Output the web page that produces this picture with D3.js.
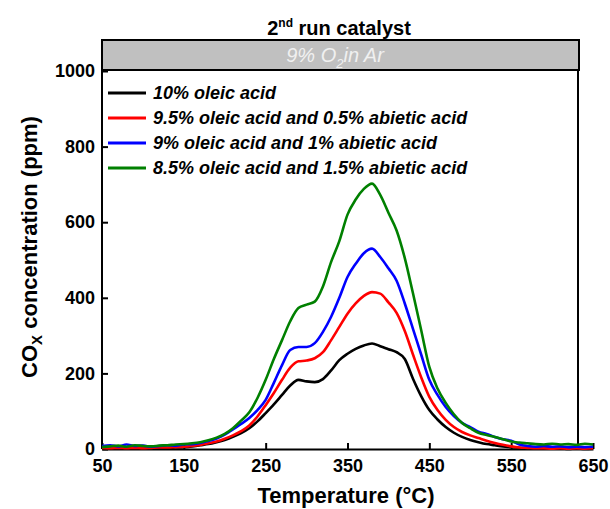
<!DOCTYPE html>
<html>
<head>
<meta charset="utf-8">
<script src="https://cdnjs.cloudflare.com/ajax/libs/d3/7.8.5/d3.min.js"></script>
<style>
	body { margin: 0; background: #ffffff; }
	text { font-family: Arial, "Liberation Sans", sans-serif; }
</style>
</head>
<body>
<div id="chart"></div>
<script>
// temperature grid (°C)
var temps = [50, 60, 70, 80, 90, 100, 110, 120, 130, 140, 150, 160, 170, 180, 190, 200, 210, 220, 230, 240,
	250, 260, 270, 280, 290, 300, 310, 320, 330, 340, 350, 360, 370, 380, 390, 400, 410, 420, 430, 440,
	450, 460, 470, 480, 490, 500, 510, 520, 530, 540, 550, 560, 570, 580, 590, 600, 610, 620, 630, 640, 650];

// CO_x concentration (ppm) for each run
var oleic10 = [2, 1, 2, 1, 2, 1, 2, 3, 3, 4, 5, 7, 10, 13, 18, 24, 32, 42, 55, 73,
	95, 118, 143, 168, 183, 179, 177, 185, 208, 235, 252, 265, 274, 279, 272, 264, 256, 238, 186, 140,
	103, 78, 58, 43, 32, 24, 18, 13, 10, 7, 5, 3, 2, 1, 1, 1, 1, 0, 1, 0, 1];
var oleic95 = [3, 2, 3, 2, 3, 2, 3, 4, 4, 5, 6, 8, 11, 15, 20, 27, 36, 47, 62, 86,
	116, 148, 183, 215, 232, 234, 240, 256, 288, 323, 358, 385, 405, 415, 411, 388, 360, 312, 250, 190,
	138, 103, 77, 58, 45, 36, 29, 22, 16, 11, 7, 4, 3, 2, 2, 1, 2, 1, 2, 1, 2];
var oleic9 = [8, 10, 7, 12, 8, 9, 6, 8, 10, 9, 12, 13, 16, 21, 28, 38, 52, 66, 82, 103,
	130, 175, 222, 262, 270, 270, 280, 310, 350, 400, 455, 490, 518, 530, 508, 478, 445, 385, 318, 250,
	183, 143, 111, 87, 69, 58, 46, 40, 32, 26, 22, 12, 8, 6, 8, 6, 7, 5, 6, 5, 6];
var oleic85 = [5, 7, 9, 6, 10, 8, 7, 9, 10, 12, 13, 15, 18, 23, 30, 40, 55, 75, 97, 135,
	183, 238, 288, 338, 373, 382, 390, 430, 495, 550, 620, 660, 688, 702, 672, 625, 578, 505, 412, 315,
	217, 160, 122, 92, 69, 55, 43, 37, 32, 26, 20, 17, 15, 13, 12, 14, 12, 13, 11, 14, 12];

var seriesNames = ["10% oleic acid", "9.5% oleic acid and 0.5% abietic acid",
	"9% oleic acid and 1% abietic acid", "8.5% oleic acid and 1.5% abietic acid"];
var seriesValues = [oleic10, oleic95, oleic9, oleic85];
var seriesColors = ["#000000", "#ff0000", "#0000ff", "#008000"];

var xTicks = [50, 150, 250, 350, 450, 550, 650];
var yTicks = [0, 200, 400, 600, 800, 1000];

// Setting size
var size = { width: 610, height: 509 };
var plot = { left: 102, right: 578, top: 70, bottom: 449 };

// scales
var xScale = d3.scaleLinear()
	.domain([50, 650])
	.range([plot.left, 593]);

var yScale = d3.scaleLinear()
	.domain([0, 1000])
	.range([plot.bottom, 71]);

var svg = d3.select("#chart").append("svg")
	.attr("width", size.width)
	.attr("height", size.height)
	.style("background", "#ffffff");

// title
var title = svg.append("text")
	.attr("x", 339)
	.attr("y", 35)
	.attr("text-anchor", "middle")
	.style("font-size", "20px")
	.style("font-weight", "bold");
title.append("tspan").text("2");
title.append("tspan").attr("dy", -8).style("font-size", "12px").text("nd");
title.append("tspan").attr("dy", 8).text(" run catalyst");

// grey strip on top
svg.append("rect")
	.attr("x", plot.left)
	.attr("y", 40)
	.attr("width", plot.right - plot.left + 1)
	.attr("height", plot.top - 40)
	.attr("fill", "#c0c0c0")
	.attr("stroke", "#000")
	.attr("stroke-width", 2);

var strip = svg.append("text")
	.attr("x", 335)
	.attr("y", 62)
	.attr("text-anchor", "middle")
	.attr("fill", "#f0f0f0")
	.style("font-size", "20px")
	.style("font-style", "italic");
strip.append("tspan").text("9% O");
strip.append("tspan").attr("dy", 6).style("font-size", "13px").text("2");
strip.append("tspan").attr("dy", -6).text("in Ar");

// frame lines
svg.append("line")
	.attr("x1", plot.right).attr("x2", plot.right)
	.attr("y1", plot.top).attr("y2", plot.bottom)
	.attr("stroke", "#000").attr("stroke-width", 2);

// x axis (ticks inside)
var x_axis = d3.axisBottom(xScale)
	.tickValues(xTicks)
	.tickSizeInner(-6)
	.tickSizeOuter(0)
	.tickPadding(10);

var gx = svg.append("g")
	.attr("transform", "translate(0," + plot.bottom + ")")
	.call(x_axis);
gx.select(".domain").attr("stroke-width", 2);
gx.selectAll(".tick line").attr("stroke-width", 2);
gx.selectAll(".tick text")
	.attr("fill", "#000")
	.style("font-size", "18px")
	.style("font-weight", "bold")
	.style("font-family", "Arial, 'Liberation Sans', sans-serif");

// y axis (ticks inside)
var y_axis = d3.axisLeft(yScale)
	.tickValues(yTicks)
	.tickFormat(d3.format("d"))
	.tickSizeInner(-6)
	.tickSizeOuter(0)
	.tickPadding(7);

var gy = svg.append("g")
	.attr("transform", "translate(" + plot.left + ",0)")
	.call(y_axis);
gy.select(".domain").attr("d", "M0," + plot.top + "V" + plot.bottom).attr("stroke-width", 2);
gy.selectAll(".tick line").attr("stroke-width", 2);
gy.selectAll(".tick text")
	.attr("fill", "#000")
	.style("font-size", "18px")
	.style("font-weight", "bold")
	.style("font-family", "Arial, 'Liberation Sans', sans-serif");

// axis labels
svg.append("text")
	.attr("x", 346)
	.attr("y", 503)
	.attr("text-anchor", "middle")
	.style("font-size", "22px")
	.style("font-weight", "bold")
	.text("Temperature (°C)");

var ylab = svg.append("text")
	.attr("transform", "translate(37,247) rotate(-90)")
	.attr("text-anchor", "middle")
	.style("font-size", "22px")
	.style("font-weight", "bold");
ylab.append("tspan").text("CO");
ylab.append("tspan").attr("dy", 5).style("font-size", "15px").text("X");
ylab.append("tspan").attr("dy", -5).text(" concentration (ppm)");

// curves
var line = d3.line()
	.x(function(d, i) { return xScale(temps[i]); })
	.y(function(d) { return yScale(d); })
	.curve(d3.curveMonotoneX);

seriesValues.forEach(function(values, index)
{
	svg.append("path")
		.datum(values)
		.attr("fill", "none")
		.attr("stroke", seriesColors[index])
		.attr("stroke-width", 2.6)
		.attr("stroke-linejoin", "round")
		.attr("d", line);
});

// legend
var legend = svg.append("g")
	.attr("transform", "translate(108,93)");

seriesNames.forEach(function(name, index)
{
	var row = legend.append("g")
		.attr("transform", "translate(0," + (index * 25) + ")");

	row.append("line")
		.attr("x1", 0).attr("x2", 38)
		.attr("stroke", seriesColors[index])
		.attr("stroke-width", 3);

	row.append("text")
		.attr("x", 45)
		.attr("y", 6)
		.style("font-size", "18px")
		.style("font-weight", "bold")
		.style("font-style", "italic")
		.text(name);
});
</script>
</body>
</html>
